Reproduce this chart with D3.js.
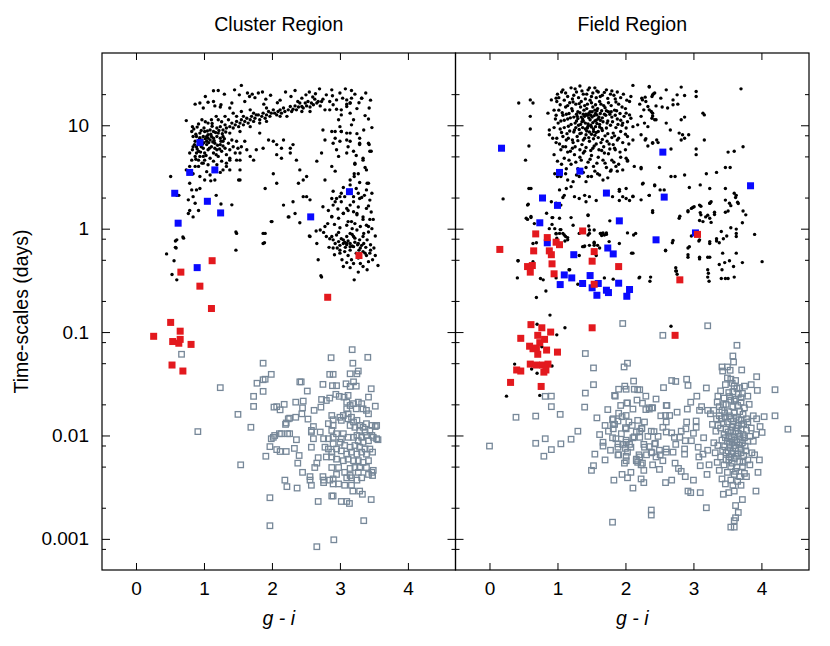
<!DOCTYPE html>
<html><head><meta charset="utf-8">
<script src="https://cdn.jsdelivr.net/npm/d3@7"></script>
<style>
body{margin:0;background:#fff}
svg{display:block}
text{font-family:"Liberation Sans",Arial,Helvetica,sans-serif;fill:#000}
</style>
</head><body><svg id="chart" width="830" height="646"></svg>
<script>
const panelTitles = ["Cluster Region", "Field Region"];
const xLabel = "g - i";
const yLabel = "Time-scales (days)";
const xTickValues = [0, 1, 2, 3, 4];
const yTickValues = [0.001, 0.01, 0.1, 1, 10];
const yTickLabels = ["0.001", "0.01", "0.1", "1", "10"];
const yMinorMultipliers = [2, 5, 8];

// ---------- Cluster region ----------
const clusterDots = [
[1.55,24.3],[1.14,21.6],[1.21,21.7],[1.52,19.7],[1.64,20.5],[1.71,20],[1.67,19],[1.80,20.5],[1.86,21],[1.91,17.9],[2.34,21.7],[2.44,18.3],[2.50,19.7],[2.64,20.2],[2.63,17.9],[2.80,19.7],[2.88,22],[2.89,19.3],[2.75,17.9],[2.95,17.6],[3.04,18.3],[3.10,17.6],[3.17,18.3],[3.32,18.3],[3.15,16.4],[3.10,16],[1.06,16.7],[1.14,17],[0.87,16],[0.94,16.4],[1.41,16.4],[1.25,15.8],
[0.99,14.7],[1.16,15.4],[1.24,15],[1.38,14.7],[1.43,13.1],[1.55,13.6],[1.68,14.1],[1.80,12.6],[1.92,14.7],[2.04,13.1],[2.12,14.1],[2.22,12.2],[2.29,13.6],[2.36,14.1],[2.46,14.7],[2.51,15.4],[2.56,15],[2.61,15.8],[2.66,16.4],[2.71,15.4],[2.78,14.1],[2.85,14.1],[2.95,14.3],[2.90,15.8],[3.02,12.6],[2.98,11.3],[0.74,11.1],[0.83,9.7],[0.97,11.3],[1.06,10.5],[1.11,11.3],[1.21,11.3],[1.31,12.2],
[0.89,7.8],[0.94,8.4],[0.99,7.8],[1.01,8.7],[1.06,8.1],[1.09,9.0],[1.14,8.7],[1.19,9.4],[1.21,8.4],[1.24,9.7],[1.28,9.0],[1.31,10.1],[1.33,9.4],[1.38,9.7],[1.41,10.5],[1.43,9.4],[1.46,10.1],[1.48,10.9],[1.51,9.7],[1.53,10.5],[1.55,11.3],[1.58,10.1],[1.60,10.9],[1.63,11.7],[1.65,10.5],[1.68,11.3],[1.70,12.2],[1.73,10.9],[1.75,11.7],[1.77,12.6],[1.82,11.3],[1.85,12.2],[1.87,13.1],[1.90,11.7],[1.92,12.6],[1.95,13.6],[1.97,12.2],[1.99,13.1],[2.02,14.1],[2.07,12.6],[2.09,13.6],[2.14,13.1],[2.17,14.7],[2.19,13.6],[2.24,14.1],[2.27,15.2],[2.31,14.3],[2.34,15.4],[2.39,15],[2.41,16.4],[2.44,15.2],[2.49,16.4],[2.53,17],[2.58,16.4],[2.68,17],[2.73,17],[2.56,13.6],[2.44,13.6],[1.82,10.5],[1.68,9.7],[1.53,8.7],[1.38,8.4],[1.28,7.8],[1.14,7.5],[1.04,7.0],[1.58,12.2],[1.73,13.1],[1.92,10.9],[2.12,12.2],[1.36,11.3],[1.48,12.2],
[0.82,8.7],[0.84,7.8],[0.87,7.0],[0.89,6.2],[0.92,5.6],[0.94,6.5],[0.97,7.2],[0.99,6.0],[1.01,5.4],[1.04,6.5],[1.06,5.8],[1.09,7.2],[1.11,6.2],[1.14,5.4],[1.16,6.7],[1.19,5.8],[1.21,5.0],[1.24,6.5],[1.26,5.6],[1.28,7.0],[1.31,6.0],[1.33,5.2],[1.36,6.7],[1.38,5.8],[1.41,7.2],[1.43,6.2],[1.46,5.4],[1.48,7.0],[0.87,5.0],[0.92,4.6],[0.97,4.3],[1.01,4.6],[1.06,4.15],[0.89,5.4],[1.19,7.8],[1.24,7.5],[1.11,7.8],[1.04,7.8],[0.94,7.6],[0.84,6.2],[0.79,5.4],[0.82,4.6],[0.79,4.0],[0.87,4.0],[1.09,4.8],[1.14,4.5],[0.99,5.0],[0.94,5.0],[1.26,4.5],[1.33,4.3],[1.38,4.8],[1.19,4.15],[1.28,3.7],[1.38,3.7],[1.50,6.0],[1.53,5.4],[1.55,6.2],[1.60,7.0],[1.63,5.8],[1.48,4.6],
[0.85,9.2],[0.88,8.2],[0.9,9.6],[0.93,7.3],[0.96,8.9],[0.98,6.6],[1.0,9.4],[1.02,7.4],[1.05,8.8],[1.07,6.8],[1.1,8.2],[1.12,9.8],[1.15,7.1],[1.17,8.5],[1.2,6.4],[1.22,8.9],[1.25,7.0],[1.27,8.3],[1.3,7.4],[1.32,8.6],[0.86,6.5],[0.9,5.9],[0.95,5.5],[1.0,6.8],[1.03,5.1],[1.08,6.0],[1.13,6.9],[1.18,5.2],[1.23,5.9],[1.28,6.3],[0.83,5.8],[0.88,4.7],[0.96,6.2],[1.06,7.5],[1.16,6.0],[0.92,10.3],[1.02,10.8],[1.12,10.4],[1.18,12.2],[1.26,10.8],
[0.51,3.2],[0.60,2.1],[0.60,0.78],[0.59,0.65],[0.70,0.81],[0.79,2.75],[0.82,2.37],[0.84,2.04],[0.77,1.9],[0.79,1.5],[0.77,1.4],[0.84,1.3],[0.92,1.5],[0.87,1.76],[0.89,2.37],[0.94,2.45],[0.94,3.2],[1.01,2.96],[1.04,3.56],[1.09,3.3],[0.92,4.0],[0.99,4.3],[0.74,3.7],[0.84,3.4],
[1.18,2.1],[1.25,1.73],[1.41,1.7],[1.51,2.96],[1.10,2.9],[1.24,3.5],
[0.63,2.1],[0.45,0.57],[0.58,0.76],[0.58,0.66],[0.69,0.83],[0.56,0.49],[0.53,0.36],[0.60,0.32],[1.47,0.93],[1.47,0.62],[1.87,0.9],[1.89,0.73],[2.68,0.5],[2.72,0.35],[2.73,0.34],[2.55,0.85],[2.0,1.17],[2.41,1.14],[2.25,1.3],[2.65,0.95],[2.76,0.92],[2.84,0.66],
[1.82,8.4],[1.95,7.2],[2.02,7.0],[2.07,6.5],[2.17,7.2],[2.27,6.0],[2.31,6.5],[2.14,6.0],[1.53,4.6],[1.53,2.96],[1.68,5.0],[1.77,5.8],[1.87,6.0],[1.73,4.6],[2.07,5.2],[2.14,4.8],[2.27,5.4],[2.36,4.6],[2.41,3.7],[2.51,3.2],[2.46,2.96],[2.39,2.75],[2.66,4.5],[2.73,5.4],[2.75,9.0],[2.78,7.2],[2.88,8.7],[2.93,7.5],[3.02,8.7],[3.10,7.2],[3.15,8.4],[2.95,5.8],[2.98,5.0],[3.12,6.2],[3.20,5.6],[3.29,6.7],[3.42,6.7],[3.44,5.6],[3.22,4.3],[3.34,4.8],[3.39,3.7],[3.42,2.75],[3.27,3.4],[3.15,2.96],[2.02,3.4],[2.07,2.75],[1.90,2.45],[2.17,1.69],[2.31,1.82],[2.46,2.04],[2.51,2.04],[2.56,1.9],[2.34,1.4],[2.24,1.3],[2.78,2.96],[2.75,1.63],[2.83,1.5],[2.93,1.82],[3.0,2.04],[3.10,1.57],[3.20,1.82],[3.25,1.4],[3.34,1.3],[3.42,1.05],[3.34,0.84],[3.17,1.17],[3.05,1.4],[2.88,1.3],[2.78,1.05],[2.71,0.97],[2.56,0.84],[2.66,0.72],[2.80,0.84],[2.90,0.78],[3.0,0.69],[3.10,0.72],[3.20,0.84],[3.27,0.72],[2.90,0.65],[3.0,0.62],[3.15,0.67],[1.99,1.17],[1.48,0.9],[1.87,0.72],[1.90,0.9],[1.33,4.0],[1.38,4.6],[1.53,3.7],[1.16,2.96],
[3.15,16.4],[3.17,21.7],[3.32,18.3],[3.43,14.7],[3.37,12.4],[3.10,15.2],[3.02,14.1],[3.15,13.1],[3.20,11.3],[3.17,10.1],[3.0,9.7],[2.93,8.7],[3.02,8.7],[3.10,8.4],[2.90,6.7],[3.0,7.0],[3.15,7.0],[3.29,7.5],[3.29,6.5],[3.43,6.5],[3.46,5.6],[3.10,5.4],[3.24,5.1],[3.34,4.6],[3.22,4.2],[3.21,3.4],[3.21,3.2],[3.37,3.9],[2.88,4.0],[2.93,3.6],[3.29,2.8],[3.40,2.75],[3.39,2.37],[3.15,2.65],[3.24,2.45],[3.02,2.2],[2.95,1.96],[2.88,1.96],[2.90,1.69],[3.02,1.82],[3.07,2.04],[3.20,2.04],[3.29,1.96],[3.44,1.89],[3.32,2.0],[3.42,1.66],[3.39,1.57],[3.15,1.69],[3.20,1.46],[2.88,1.31],[2.98,1.26],[3.05,1.41],[3.12,1.17],[3.25,1.36],[3.22,1.12],[3.34,1.23],[3.44,1.23],[3.49,1.23],[3.39,1.08],[3.42,0.93],[3.25,0.97],[3.15,0.9],[3.10,0.84],[3.05,0.78],[2.93,0.72],[2.98,0.75],[3.07,0.74],[3.15,0.72],[3.22,0.81],[3.29,0.78],[3.20,0.67],[3.32,0.69],[3.34,0.6],[3.39,0.55],[3.44,0.58],[3.48,0.50],[3.56,0.44],[3.34,0.43],[3.27,0.38],[3.07,0.6],[3.05,0.43],[3.20,0.46],[3.21,0.32],[2.88,0.84],[2.95,0.87],[3.37,0.58],
[3.05,0.72],[3.1,0.7],[3.12,0.76],[3.18,0.68],[3.22,0.74],[3.26,0.7],[3.3,0.65],[3.35,0.72],[3.28,0.62],[3.15,0.62],[3.08,0.66],[3.02,0.8],[3.38,0.66],[3.45,0.62],[3.24,0.58],[3.12,0.55],[3.0,0.58],[2.96,0.65],
[1.02,19],[1.3,20],[1.45,22],[1.6,17],[1.75,18.5],[1.98,19.5],[2.12,17.5],[2.2,21],[2.28,19],[2.38,17],[2.55,21],[2.7,22.5],[2.85,17],[3.0,20.5],[3.08,22.5],[3.22,20],[3.28,16.5],[3.38,20.5],[3.45,17.5],[2.08,16.5],[1.88,16],[2.6,18.8],[3.25,14.5],[3.42,11.5],[3.47,9.5],[3.35,9.0],[3.25,8.3],
[2.9,2.3],[3.05,2.5],[3.12,2.3],[3.27,2.2],[3.36,2.1],[3.47,2.2],[2.97,1.55],[3.12,1.5],[3.27,1.62],[3.46,1.45],[2.92,1.1],[3.0,1.02],[3.1,1.08],[3.18,1.0],[3.3,1.05],[3.47,1.0],[3.52,0.85],[3.4,0.78],[3.45,0.7],[3.5,0.65],[2.92,0.56],[3.03,0.5],[3.1,0.47],[3.17,0.5],[3.27,0.52],[3.3,0.46],[3.42,0.48],[3.52,0.55],[3.15,0.42],[3.4,0.4],[2.98,0.92],[3.18,0.88],[3.35,0.9],[2.82,1.12],[2.85,0.8]
];
const clusterBlue = [[0.94,6.8],[0.79,3.5],[1.16,3.7],[0.57,2.2],[1.05,1.84],[1.245,1.42],[0.62,1.13],[2.57,1.30],[3.14,2.28],[0.90,0.42]];
const clusterRed = [[1.12,0.49],[0.66,0.38],[0.94,0.278],[1.11,0.169],[0.51,0.124],[0.26,0.091],[0.65,0.102],[0.54,0.081],[0.65,0.085],[0.63,0.078],[0.81,0.076],[0.53,0.048],[0.69,0.042],[2.82,0.217],[3.28,0.55]];
const clusterGray = [
[0.67,0.061],[0.91,0.0109],[1.24,0.029],[1.50,0.016],[1.54,0.0052],[1.69,0.012],[1.73,0.0239],[1.73,0.0191],[1.78,0.032],[1.87,0.0346],[1.90,0.035],[1.87,0.05],[1.99,0.039],[1.87,0.0267],[1.91,0.0063],[1.97,0.0025],[1.97,0.00134],[2.03,0.0188],[2.07,0.019],[2.12,0.0177],[2.18,0.02],[2.24,0.0145],[2.26,0.0147],[2.35,0.015],[2.41,0.033],[2.35,0.021],[2.46,0.0215],[2.45,0.0185],[2.44,0.0162],[2.53,0.0144],[2.21,0.0132],[2.20,0.0128],[1.99,0.0093],[2.02,0.0096],[2.04,0.01],[2.11,0.0104],[2.14,0.0104],[2.23,0.0104],[2.26,0.0104],[2.36,0.0091],[1.97,0.0078],[2.07,0.0073],[2.12,0.007],[2.21,0.007],[2.33,0.0075],[2.40,0.0064],[2.38,0.0054],[2.45,0.0044],[2.56,0.004],[2.56,0.0037],[2.58,0.0033],[2.63,0.0049],[2.66,0.0054],[2.68,0.0061],[2.58,0.0077],[2.58,0.0108],[2.61,0.0122],[2.19,0.0037],[2.22,0.0032],[2.37,0.0031],[2.68,0.0023],[2.66,0.00084],[2.91,0.00098],[3.35,0.0015],[2.87,0.0565],[3.18,0.0676],[3.19,0.05],[3.41,0.057],[3.27,0.042],[2.85,0.039],[2.90,0.039],[3.15,0.0395],[3.25,0.0395],[2.43,0.033],[2.52,0.0269],[2.75,0.0312],[2.89,0.0303],[2.95,0.0303],[3.09,0.0316],[3.15,0.0298],[3.20,0.033],[3.24,0.030],[3.46,0.0283],[3.42,0.0235],[3.52,0.0192],[2.73,0.0223],[2.80,0.0218],[2.85,0.023],[2.94,0.025],[2.99,0.0239],[3.06,0.0235],[3.12,0.0244],[2.72,0.0188],[2.62,0.0175],[3.10,0.021],[3.15,0.0195],[3.20,0.0203],[3.27,0.021],[3.32,0.0203],[3.34,0.0181],[3.39,0.0175],[3.42,0.0162],[3.24,0.0181],[3.10,0.0181],[3.12,0.0162],
[2.88,0.0156],[2.90,0.0142],[2.83,0.013],[2.90,0.0125],[3.0,0.015],[3.02,0.014],[3.05,0.0156],[3.12,0.0145],[3.17,0.015],[3.20,0.0135],[3.25,0.014],[3.15,0.0125],[3.22,0.012],[3.29,0.0125],[3.34,0.012],[3.39,0.013],[3.47,0.0125],[3.52,0.0122],[3.54,0.0125],[3.44,0.0112],[3.37,0.0108],[3.29,0.0112],[3.25,0.01],[3.32,0.0096],[3.39,0.01],[3.47,0.01],[3.54,0.0093],[3.42,0.0089],[3.34,0.0086],[3.27,0.0089],[3.20,0.0096],[3.12,0.0096],[3.05,0.0104],[3.02,0.0093],[2.95,0.0104],[2.88,0.0112],[2.83,0.0093],[2.90,0.0083],[3.0,0.0086],[3.07,0.008],[3.15,0.0077],[3.22,0.008],[3.29,0.0077],[3.37,0.0074],[3.44,0.0074],[3.48,0.0069],[3.39,0.0066],[3.32,0.0069],[3.25,0.0066],[3.17,0.0069],[3.10,0.0066],[3.02,0.0071],[2.95,0.0074],[2.88,0.0069],[2.80,0.0062],[2.88,0.0062],[2.95,0.0059],[3.05,0.0057],[3.12,0.0059],[3.20,0.0057],[3.27,0.0057],[3.34,0.0055],[3.42,0.0057],[3.49,0.0046],[3.48,0.0041],[3.42,0.0042],[3.29,0.0049],[3.22,0.0049],[3.15,0.0048],[3.07,0.0044],[3.15,0.0041],[3.27,0.0044],[3.32,0.0039],[3.25,0.0037],[3.17,0.0039],[3.10,0.0039],[2.95,0.0042],[2.90,0.0038],[2.85,0.0037],[2.90,0.0034],[2.98,0.0034],[3.07,0.0033],[3.17,0.0033],[3.19,0.0029],[3.29,0.0029],[3.33,0.0027],[3.46,0.0024],[3.10,0.0023],[3.14,0.0022],[3.02,0.0023],[2.90,0.0026],[2.88,0.0026],[2.75,0.004],[2.76,0.0037],[2.76,0.0035],[2.78,0.0077],[2.83,0.0074],[2.90,0.0096],[2.88,0.0049],[2.98,0.0049],[3.39,0.0049],[3.47,0.0044],[3.49,0.0096],[3.56,0.0091],[2.76,0.0093],[2.71,0.0108],[2.61,0.0093],[2.58,0.0112]
];

// ---------- Field region ----------
const fieldDots = [
[0.43,16.4],[0.60,17.6],[0.64,16.4],[0.60,12.2],[0.60,9.2],[0.86,13.1],[0.91,17.6],[0.98,18.3],[0.88,9.0],[0.88,8.1],[0.58,6.3],[0.53,4.6],[0.61,2.45],[0.20,1.94],[0.57,1.72],[0.54,1.26],[0.61,1.31],[0.92,1.28],[1.03,1.26],[0.42,0.49],[0.64,0.72],[0.64,0.48],
[2.11,24.3],[2.35,23.7],[2.40,19.7],[2.43,20.5],[2.08,19],[2.06,17],[2.24,18.3],[2.29,18.7],[2.21,16],[2.33,15.2],[2.35,14.1],[2.40,13.1],[2.45,11.3],[2.39,11.7],[2.28,10.5],[2.33,9.7],[2.11,9.7],[2.18,10.1],[2.01,13.1],[2.08,11.7],[1.96,10.5],[2.01,9.4],[2.03,7.8],[2.11,7.2],[2.23,8.1],[2.29,7.2],[2.40,6.7],[2.48,6.8],[2.01,4.8],[2.03,4.6],[2.13,4.0],[2.23,3.8],[2.26,2.75],[2.43,2.65],[2.35,2.1],[2.11,2.04],[2.06,1.87],[1.96,2.04],[1.91,1.87],[1.91,2.4],[2.01,2.45],[2.03,0.91],[2.12,0.87],[1.69,0.87],[1.64,0.9],[1.76,0.75],[1.54,0.72],[1.59,0.69],[1.45,0.87],[1.47,0.97],[1.39,0.67],[1.03,0.9],[0.99,0.81],
[2.35,23.4],[2.60,22],[2.82,23.4],[2.41,20.1],[2.39,19],[2.52,18.3],[2.76,19.7],[2.87,19.4],[3.04,21.2],[3.04,19],[2.70,17.6],[2.25,17.6],[2.30,17],[2.45,15.4],[2.54,15],[2.62,14.7],[2.70,15.8],[2.77,16],[2.27,14.1],[2.38,13.6],[2.23,12.2],[2.40,12.3],[2.43,11.3],[2.60,10.5],[2.82,11.3],[2.87,12],[3.14,13.1],[3.16,12.6],[3.70,22.5],[2.66,9.0],[2.79,8.4],[2.84,8.1],[2.93,8.1],[2.87,7.5],[2.82,7.2],[3.16,7.2],[2.30,7.4],[2.40,6.8],[2.46,7.2],[2.33,6.3],[2.67,5.9],[3.04,5.9],[3.04,5.2],[3.51,5.5],[3.60,5.6],[3.73,6.2],[2.23,3.9],[2.50,3.9],[2.67,3.2],[2.73,3.2],[2.87,3.3],[3.19,3.4],[3.34,3.5],[3.47,3.9],[3.54,3.9],[2.25,2.7],[2.43,2.6],[2.51,2.37],[2.57,2.37],[2.94,2.5],[3.10,2.65],[3.24,2.45],[3.47,2.45],[3.60,2.2],[3.63,2.1],[3.62,2.0],[2.35,2.1],[2.23,1.9],[3.26,1.82],[3.24,1.76],[3.47,1.89],[3.55,1.67],[3.53,1.76],[3.65,1.8],[3.66,1.75],[2.92,1.49],[2.97,1.57],[2.99,1.6],[3.01,1.63],[3.11,1.65],[2.40,1.49],[2.80,1.32],[3.10,1.43],[3.18,1.3],[3.21,1.35],[3.31,1.44],[3.47,1.44],[3.51,1.48],[3.26,1.15],[3.09,1.2],[3.73,1.48],[3.77,1.36],[3.72,1.14],[3.55,1.02],[3.41,0.94],[3.63,0.99],[3.63,0.9],[3.63,0.84],[3.49,0.85],[3.44,0.8],[3.34,0.8],[3.38,0.73],[3.90,0.88],[3.24,0.75],[3.09,0.78],[2.97,0.85],[2.94,0.67],[2.92,0.56],[2.70,0.77],[2.59,0.62],[3.09,0.53],[3.21,0.53],[3.24,0.53],[3.43,0.58],[3.63,0.58],[3.38,0.45],[3.46,0.47],[3.53,0.49],[3.72,0.47],[4.01,0.48],[3.59,0.43],[3.21,0.4],[3.42,0.4],[2.74,0.42],[2.75,0.39],[3.21,0.34],[3.41,0.33],[3.47,0.33],[3.51,0.33],[3.60,0.34],[2.37,0.34],[2.21,0.34],
[0.89,0.146],[1.11,0.11],[0.99,0.094],[0.70,0.119],[0.37,0.049],[0.62,0.044],[0.70,0.040],[0.92,0.047],[0.77,0.072],[0.25,0.024],[0.74,0.0244],[2.67,0.114],[0.41,0.334],[0.42,0.49],[0.69,0.216],[0.83,0.25],[0.75,0.33],[0.79,0.32],[0.98,0.334],[1.17,0.40],[1.30,0.29],[1.69,0.334],[1.82,0.325],[2.20,0.334],[2.36,0.31],[2.09,0.58],[2.59,0.61],[2.74,0.39],[2.76,0.363],[2.92,0.53],[3.09,0.51],[3.22,0.37],[3.23,0.31],[3.34,0.76],[3.24,0.72],[3.08,0.76],[2.92,0.65],[2.69,0.73],[2.15,0.9],[2.40,1.43],[2.79,1.26],[2.92,1.46],[3.11,1.36],[3.24,1.26],[3.31,1.37],[3.14,1.17],[3.24,1.76],[3.09,1.69],[0.56,1.23],[0.61,1.28],[1.20,1.28],[1.45,1.36],[1.23,1.08],[1.46,1.06],[0.96,1.0],[1.04,0.98],[0.98,0.89],[1.10,0.87],[1.15,0.82],[1.11,0.76],[1.40,0.68],[1.54,0.74],[1.67,0.91],[1.72,0.91],[1.65,0.86],[1.77,1.19],[0.84,1.41],
[0.66,1.12],[0.93,1.28],[0.92,1.1],[0.98,0.9],[1.05,0.98],[1.12,0.84],[1.08,0.9],[1.15,0.78],[1.32,0.9],[1.37,0.67],[1.03,0.72],[0.88,1.0],[1.47,0.9],[1.54,0.97],[1.72,0.88],[1.63,0.9],[1.91,0.72],[2.11,0.58],[1.47,0.69],[1.54,0.69],[1.62,0.65],[0.69,0.73],[1.18,0.4],[1.32,0.55],[1.57,0.55],
[0.58,2.45],[0.56,1.69],[0.91,1.82],[0.98,1.76],[1.08,2.0],[1.05,1.69],[1.10,2.1],[1.25,2.04],[1.32,1.96],[1.40,2.1],[1.47,2.04],[1.57,1.87],[1.42,1.82],[1.81,2.04],[1.91,2.3],[2.01,1.96],[2.11,2.06],[1.03,2.37],[1.13,2.45],[1.20,2.55],[1.45,1.34],
[0.96,3.4],[1.05,3.2],[1.15,2.96],[1.23,2.85],[1.32,3.2],[1.42,2.85],[1.50,3.2],[1.59,3.4],[1.67,2.96],[1.74,3.1],[1.79,3.7],[1.86,4.0],[1.96,3.7],[2.03,4.5],
[1.0,20],[1.08,22],[1.15,19],[1.2,23],[1.28,21],[1.33,24],[1.38,20],[1.45,22],[1.5,19],[1.55,23],[1.6,21],[1.66,19.5],[1.72,22],[1.78,20],[1.85,18],[1.1,17.5],[1.22,18],[1.35,17],[1.48,17.5],[1.62,17],[1.75,16.5],[1.9,16],
[1.02,14],[1.05,11],[1.06,8.5],[1.08,12.5],[1.1,9.5],[1.12,15],[1.13,7.2],[1.15,11.5],[1.17,13],[1.18,8.8],[1.2,10.2],[1.21,14.5],[1.23,6.8],[1.24,12],[1.25,9],[1.27,16],[1.28,11],[1.29,7.8],[1.3,13.5],[1.31,10],[1.33,8.3],[1.34,15],[1.35,12],[1.36,6.5],[1.37,9.5],[1.38,11],[1.39,14],[1.4,7.5],[1.41,10.5],[1.42,12.8],[1.43,8.8],[1.44,16],[1.45,9.8],[1.46,11.8],[1.47,7],[1.48,13.5],[1.49,10],[1.5,8.2],[1.51,12],[1.52,15],[1.53,9.2],[1.54,6.3],[1.55,11],[1.56,13],[1.57,8.5],[1.58,10.4],[1.59,14.5],[1.6,7.6],[1.61,12],[1.62,9.6],[1.63,11.2],[1.64,6.8],[1.65,13.8],[1.66,8.9],[1.67,10.8],[1.68,15.5],[1.7,7.9],[1.71,12.5],[1.72,9.4],[1.74,11],[1.75,13.5],[1.76,6.6],[1.78,10],[1.8,12],[1.82,8.4],[1.84,14],[1.86,9.5],[1.88,11.5],[1.9,7.5],[1.92,13],[1.95,10],
[1.32,9.1],[1.36,10.8],[1.4,12.2],[1.44,9.4],[1.48,11.3],[1.52,10.6],[1.56,9.7],[1.6,11.6],[1.35,8.4],[1.42,8.1],[1.5,9.6],[1.58,12.6],[1.46,13],[1.38,12.8],[1.54,12.4],[1.62,10.2],[1.27,9.5],[1.3,11.6],[1.45,10.3],[1.53,8.7],[1.57,11.2],[1.41,9.2],[1.49,12.5],[1.34,10.2],[1.65,9.3],[1.28,12.8],[1.6,8.7],[1.43,14.5],[1.47,8.6],[1.55,14],
[1.05,5.8],[1.1,4.8],[1.15,5.5],[1.2,4.2],[1.25,5.2],[1.3,3.8],[1.35,4.6],[1.4,5.6],[1.45,4.4],[1.5,5.1],[1.55,3.6],[1.6,4.9],[1.65,5.7],[1.7,4.3],[1.75,5.3],[1.8,4.6],[1.85,5.8],[1.0,4.5],[0.95,5.2],[1.12,3.4],[1.28,3.3],[1.45,3.2],[1.62,3.3],[1.78,3.6],[1.9,4.2],[1.08,6.2],[1.22,6],[1.38,5.4],[1.52,6],[1.68,6.2],[1.82,6.5],[0.98,6.8],[0.93,7.5],[0.95,9.5],[0.97,11.5],[0.95,14],[1.0,3.2],
[1.02,18.5],[1.06,21],[1.12,20.5],[1.18,16.5],[1.24,19.5],[1.26,22.5],[1.31,18.5],[1.36,21.5],[1.41,18],[1.43,20],[1.47,23],[1.52,20.5],[1.57,18.5],[1.58,21.5],[1.63,19],[1.69,20.8],[1.74,18.2],[1.8,21.5],[1.83,19.5],[1.88,21],[1.93,18.5],[1.97,20],[2.02,17.5],[1.15,15.5],[1.23,16.8],[1.32,16.2],[1.4,15.5],[1.5,16.5],[1.56,15.8],[1.64,16],[1.7,14.8],[1.79,15.5],[1.86,16.8],[1.95,15],[2.0,14.5],[1.04,15.8],[0.99,17],
[0.98,12.5],[1.01,10.5],[1.04,9.2],[1.07,13.2],[1.1,11.2],[1.13,12.8],[1.16,9.8],[1.19,11.8],[1.22,13.8],[1.26,10.5],[1.29,12.2],[1.33,13.2],[1.37,11.5],[1.44,12.5],[1.51,13.5],[1.58,13.8],[1.63,13],[1.66,11.8],[1.69,12.8],[1.73,10.5],[1.77,12.8],[1.81,10.8],[1.85,12.5],[1.89,10.2],[1.93,11.2],[1.98,12.2],[2.03,10.8],[2.06,12.6],[1.72,13.8],[1.79,13.5],[1.87,13.8],
[0.99,7.5],[1.03,6.6],[1.08,7.8],[1.12,6.2],[1.16,7.5],[1.19,5.6],[1.22,7.2],[1.26,6.2],[1.3,7.1],[1.33,5.8],[1.38,7.2],[1.42,6.1],[1.46,7.6],[1.49,5.7],[1.53,7.4],[1.57,6.6],[1.61,5.8],[1.66,7.3],[1.69,5.4],[1.73,7.0],[1.77,5.9],[1.8,7.6],[1.84,6.0],[1.88,7.2],[1.92,5.5],[1.96,6.8],[2.0,5.8],[2.05,6.6],[1.14,8.3],[1.24,8.6],[1.55,8.0],[1.74,8.3],[1.84,7.9],[1.93,8.7],[2.0,8.2],
[1.06,4.2],[1.17,4.6],[1.27,4.4],[1.33,4.9],[1.42,3.9],[1.48,4.7],[1.58,4.3],[1.67,4.6],[1.72,3.9],[1.83,4.4],[1.93,4.9],[1.13,3.8],[1.38,3.5],[1.53,4.0],[1.88,3.6]
];
const fieldBlue = [[0.177,6.0],[1.03,3.5],[1.33,3.6],[0.78,1.98],[1.0,1.68],[1.72,2.21],[0.74,1.14],[1.91,1.19],[0.85,0.73],[1.24,0.56],[1.74,0.65],[1.82,0.57],[2.45,0.78],[2.55,5.5],[3.84,2.6],[2.57,2.02],[3.03,0.91],[1.10,0.357],[1.21,0.334],[1.04,0.288],[1.48,0.352],[1.37,0.295],[1.51,0.268],[1.60,0.295],[1.90,0.297],[1.72,0.254],[1.75,0.241],[1.58,0.227],[2.06,0.258],[2.02,0.222]];
const fieldRed = [[0.152,0.63],[0.68,0.89],[0.85,0.82],[0.98,0.74],[1.03,0.70],[0.65,0.61],[0.88,0.61],[0.91,0.56],[1.37,0.95],[1.54,0.60],[1.51,0.485],[0.92,0.457],[0.56,0.43],[0.63,0.44],[0.60,0.38],[0.95,0.366],[1.90,0.43],[1.54,0.29],[2.80,0.32],[3.06,0.88],[1.51,0.11],[2.73,0.093],
[0.61,0.118],[0.77,0.11],[0.90,0.1],[0.46,0.087],[0.71,0.093],[0.81,0.085],[0.59,0.073],[0.74,0.079],[0.64,0.069],[0.69,0.07],[0.84,0.067],[1.0,0.064],[0.71,0.061],[0.60,0.049],[0.69,0.048],[0.78,0.048],[0.86,0.049],[0.40,0.043],[0.46,0.042],[0.80,0.041],[0.83,0.043],[0.31,0.0326],[0.76,0.0298]];
const fieldGray = [
[1.96,0.121],[2.55,0.093],[1.41,0.062],[1.53,0.045],[1.98,0.046],[2.03,0.05],[1.53,0.031],[1.41,0.0257],[1.40,0.0188],[0.91,0.024],[0.82,0.0239],[0.91,0.019],[1.04,0.016],[0.68,0.0154],[0.39,0.015],[0.0,0.0079],[0.68,0.0084],[0.91,0.0073],[0.82,0.0093],[0.80,0.0063],[1.85,0.024],[1.90,0.028],[1.99,0.030],[2.12,0.0336],[2.21,0.0277],[2.13,0.028],[2.17,0.022],[2.02,0.0206],[2.11,0.018],[2.01,0.0156],[1.90,0.0164],[1.82,0.0145],[1.82,0.0128],[1.82,0.0116],[2.56,0.029],[2.30,0.0178],[2.35,0.0185],[2.40,0.0185],[2.61,0.0195],[2.24,0.0118],[2.16,0.0108],[2.21,0.0096],[2.11,0.0095],[2.0,0.0119],[2.42,0.0109],[1.62,0.0102],[1.67,0.0086],[1.67,0.0079],[1.86,0.0093],[1.89,0.0077],[2.01,0.009],[2.0,0.0075],[2.06,0.0082],[2.27,0.0082],[2.44,0.0084],[1.90,0.0065],[2.01,0.0063],[2.20,0.0065],[2.39,0.0068],[2.51,0.0065],[2.60,0.0074],
[1.50,0.0046],[1.53,0.0051],[1.83,0.0037],[2.03,0.0039],[2.11,0.0031],[2.23,0.0038],[2.27,0.0035],[2.23,0.0052],[2.16,0.0057],[2.27,0.0046],[2.50,0.0047],[2.59,0.0035],[2.38,0.0019],[2.38,0.0017],[1.81,0.00145],
[1.81,0.0142],[1.84,0.0128],[1.89,0.0138],[1.81,0.0095],[1.94,0.0104],[2.01,0.0116],[1.89,0.0083],[1.96,0.0082],[2.01,0.0086],[2.08,0.0077],[2.03,0.0069],[1.89,0.0065],[1.985,0.0054],[2.01,0.0057],[2.16,0.0059],[2.21,0.0062],[2.18,0.0055],[2.25,0.0054],[2.28,0.0077],[2.13,0.0097],[2.21,0.011],[2.24,0.0116],[2.38,0.011],[2.43,0.0083],[2.31,0.0065],[2.38,0.0069],[2.50,0.0072],[2.60,0.0069],[2.60,0.0195],[2.35,0.018],[2.39,0.0185],[2.59,0.0156],[2.60,0.0135],[2.55,0.012],[2.60,0.0108],[2.65,0.0156],
[2.18,0.0277],[2.01,0.028],[1.84,0.0244],[2.03,0.0206],
[2.76,0.0168],[2.91,0.018],[3.09,0.0175],[3.21,0.0175],[3.25,0.0162],[3.04,0.0138],[2.90,0.0135],[3.04,0.012],[2.89,0.0116],[2.82,0.011],[2.68,0.0106],[2.72,0.0096],[2.80,0.0096],[2.88,0.0089],[2.74,0.0082],[2.87,0.0074],[2.70,0.0069],[2.87,0.0066],[2.97,0.0089],[3.07,0.0077],[3.08,0.0062],[3.21,0.0072],[3.23,0.0052],[3.14,0.0066],[2.73,0.0054],[2.78,0.0048],[2.82,0.0045],[2.88,0.004],[2.68,0.0037],[2.92,0.0029],[2.96,0.0028],[3.10,0.0028],[3.19,0.002],[2.68,0.034],[2.74,0.0333],[2.90,0.035],[2.92,0.0305],[3.19,0.0288],
[3.21,0.115],[3.64,0.0745],[3.58,0.0587],[3.59,0.0513],[3.42,0.046],[3.50,0.046],[3.54,0.0427],[3.43,0.042],[3.71,0.043],[3.93,0.037],[4.20,0.0277],[3.94,0.0273],[3.50,0.036],[3.55,0.035],[3.62,0.034],[3.47,0.031],[3.60,0.030],[3.68,0.029],[3.75,0.030],[3.85,0.031],[3.40,0.027],[3.52,0.026],[3.58,0.0265],[3.66,0.025],[3.72,0.0255],[3.80,0.024],[3.45,0.023],[3.55,0.022],[3.62,0.0225],[3.70,0.021],[3.35,0.021],[3.48,0.020],[3.58,0.019],[3.65,0.0195],[3.75,0.0185],[3.82,0.02],[3.42,0.0175],[3.52,0.017],[3.60,0.0165],[3.68,0.017],[3.73,0.016],[3.38,0.0155],[3.47,0.015],[3.55,0.0145],[3.63,0.015],[3.70,0.014],[3.78,0.0145],[3.88,0.0155],[3.44,0.013],[3.50,0.0135],[3.58,0.0128],[3.66,0.0125],[3.74,0.013],[3.40,0.0118],[3.48,0.0115],[3.55,0.0112],[3.62,0.011],[3.70,0.0115],[3.78,0.0112],[3.85,0.0118],[3.33,0.011],[3.45,0.0102],[3.52,0.0098],[3.60,0.0096],[3.68,0.0098],[3.75,0.0095],[3.42,0.009],[3.50,0.0088],[3.57,0.0086],[3.64,0.0087],[3.72,0.0085],[3.80,0.0088],[3.36,0.008],[3.46,0.0078],[3.54,0.0076],[3.62,0.0075],[3.70,0.0074],[3.48,0.0068],[3.56,0.0067],[3.65,0.0066],[3.74,0.0064],[3.40,0.0062],[3.52,0.0058],[3.60,0.006],[3.68,0.0056],[3.80,0.0058],[3.45,0.0052],[3.55,0.005],[3.64,0.0049],[3.72,0.005],[3.50,0.0044],[3.60,0.0042],[3.38,0.0046],[3.75,0.0043],[3.55,0.0037],[3.65,0.0036],[3.47,0.0034],[3.70,0.0033],[3.60,0.0029],[3.52,0.0028],[3.72,0.0024],[3.62,0.0021],[3.66,0.0018],[3.60,0.0015],[3.55,0.0013],[3.60,0.0013],[3.62,0.0016],[3.92,0.0029],[3.95,0.0044],[3.97,0.0058],[3.90,0.0065],[3.88,0.0088],[3.92,0.0102],[3.98,0.0122],[4.20,0.0155],[4.04,0.0152],[4.01,0.0107],[4.39,0.0115],[3.93,0.0145],[3.86,0.0068],[3.83,0.0052],[3.78,0.0040],[3.58,0.0033],[3.44,0.0027],[3.42,0.0038],[3.35,0.0055],[3.32,0.0068],[3.30,0.0085],[3.28,0.0128],[3.34,0.0145],[3.30,0.0175],[3.38,0.019],[3.36,0.024],
[3.46,0.0165],[3.53,0.0155],[3.59,0.0138],[3.67,0.0142],[3.71,0.0128],[3.57,0.012],[3.64,0.0118],[3.51,0.0108],[3.66,0.0105],[3.73,0.0102],[3.47,0.0095],[3.56,0.0093],[3.61,0.009],[3.69,0.0091],[3.53,0.0082],[3.6,0.008],[3.67,0.0081],[3.76,0.0079],[3.43,0.0072],[3.51,0.0071],[3.58,0.007],[3.7,0.0068],[3.77,0.0071],[3.63,0.0063],[3.48,0.0058],[3.57,0.0054],[3.73,0.0055],[3.62,0.0045],[3.68,0.004],[3.53,0.0062],[3.44,0.0198],[3.6,0.0215],[3.7,0.0232],[3.53,0.0238],[3.64,0.0285],[3.57,0.032],[3.8,0.0135],[3.83,0.0098],[3.41,0.0145],[3.36,0.0125],
[1.7,0.0125],[1.75,0.011],[1.78,0.0072],[1.95,0.0152],[2.05,0.0135],[2.1,0.0125],[2.18,0.014],[2.28,0.0135],[2.33,0.0098],[2.35,0.0078],[2.45,0.0062],[2.48,0.0098],[2.52,0.0155],[2.45,0.0225],[2.3,0.024],[2.25,0.0205],[1.93,0.0195],[1.74,0.0178],[1.58,0.0148],[1.55,0.0066],[1.7,0.0058],[2.08,0.0044],[1.95,0.0042],[2.4,0.0052],[2.55,0.0057],[1.2,0.0092],[1.05,0.0083],[1.3,0.011],[2.96,0.021],[3.05,0.024],[3.12,0.019],[3.0,0.0105],[3.15,0.0095],[3.1,0.0051],[3.2,0.0042],[3.0,0.0037]
];

const panels = [
  {title: panelTitles[0], dots: clusterDots, gray: clusterGray, blue: clusterBlue, red: clusterRed},
  {title: panelTitles[1], dots: fieldDots, gray: fieldGray, blue: fieldBlue, red: fieldRed}
];

const svg = d3.select("#chart");
const plotTop = 53, plotBottom = 570, left0 = 102, panelW = 353.5;
const y = d3.scaleLog().domain([0.0005, 50]).range([plotBottom, plotTop]);

const yMinor = [];
for (let k = -4; k <= 1; k++) yMinorMultipliers.forEach(m => {
  const v = m * Math.pow(10, k);
  if (v > 0.0005 && v < 50) yMinor.push(v);
});

const blueCol = "#0a0aff", redCol = "#e3191e", grayCol = "#778899";

panels.forEach((p, i) => {
  const xl = left0 + i * panelW, xr = xl + panelW;
  const x = d3.scaleLinear().domain([-0.5, 4.7]).range([xl, xr]);
  const g = svg.append("g");

  g.append("g").selectAll("circle").data(p.dots).join("circle")
    .attr("cx", d => x(d[0])).attr("cy", d => y(d[1])).attr("r", 1.7).attr("fill", "#000");
  const sq = 5.5;
  g.append("g").selectAll("rect").data(p.gray).join("rect")
    .attr("x", d => x(d[0]) - sq/2).attr("y", d => y(d[1]) - sq/2)
    .attr("width", sq).attr("height", sq)
    .attr("fill", "none").attr("stroke", grayCol).attr("stroke-width", 1.3);
  const fs = 7;
  g.append("g").selectAll("rect").data(p.blue).join("rect")
    .attr("x", d => x(d[0]) - fs/2).attr("y", d => y(d[1]) - fs/2)
    .attr("width", fs).attr("height", fs).attr("fill", blueCol);
  g.append("g").selectAll("rect").data(p.red).join("rect")
    .attr("x", d => x(d[0]) - fs/2).attr("y", d => y(d[1]) - fs/2)
    .attr("width", fs).attr("height", fs).attr("fill", redCol);

  const bAx = g.append("g").attr("transform", `translate(0,${plotBottom})`)
    .call(d3.axisBottom(x).tickValues(xTickValues).tickFormat(d3.format("d")).tickSize(-7).tickPadding(12));
  const tAx = g.append("g").attr("transform", `translate(0,${plotTop})`)
    .call(d3.axisTop(x).tickValues(xTickValues).tickFormat("").tickSize(-7));
  const lAx = g.append("g").attr("transform", `translate(${xl},0)`)
    .call(d3.axisLeft(y).tickValues(yTickValues).tickSize(-8).tickPadding(13)
      .tickFormat((d, j) => i === 0 ? yTickLabels[j] : ""));
  const lAxMinor = g.append("g").attr("transform", `translate(${xl},0)`)
    .call(d3.axisLeft(y).tickValues(yMinor).tickSize(-4).tickFormat(""));
  const rAx = g.append("g").attr("transform", `translate(${xr},0)`)
    .call(d3.axisRight(y).tickValues(yTickValues).tickSize(-8).tickFormat(""));
  const rAxMinor = g.append("g").attr("transform", `translate(${xr},0)`)
    .call(d3.axisRight(y).tickValues(yMinor).tickSize(-4).tickFormat(""));
  [bAx, tAx, lAx, lAxMinor, rAx, rAxMinor].forEach(a => {
    a.select(".domain").remove();
    a.selectAll("line").attr("stroke", "#000").attr("stroke-width", 1);
    a.selectAll("text").attr("font-size", 19).attr("font-family", "Liberation Sans, Arial, sans-serif").attr("fill", "#000");
  });

  g.append("rect").attr("x", xl).attr("y", plotTop).attr("width", panelW).attr("height", plotBottom - plotTop)
    .attr("fill", "none").attr("stroke", "#000").attr("stroke-width", 1.2);

  g.append("text").attr("x", (xl + xr) / 2).attr("y", 31).attr("text-anchor", "middle")
    .attr("font-size", 19.5).text(p.title);
  g.append("text").attr("x", (xl + xr) / 2).attr("y", 625).attr("text-anchor", "middle")
    .attr("font-size", 19.5).attr("font-style", "italic").text(xLabel);
});

svg.append("text").attr("transform", `translate(28,${(plotTop + plotBottom) / 2}) rotate(-90)`)
  .attr("text-anchor", "middle").attr("font-size", 19.5).text(yLabel);
</script>
</body></html>
